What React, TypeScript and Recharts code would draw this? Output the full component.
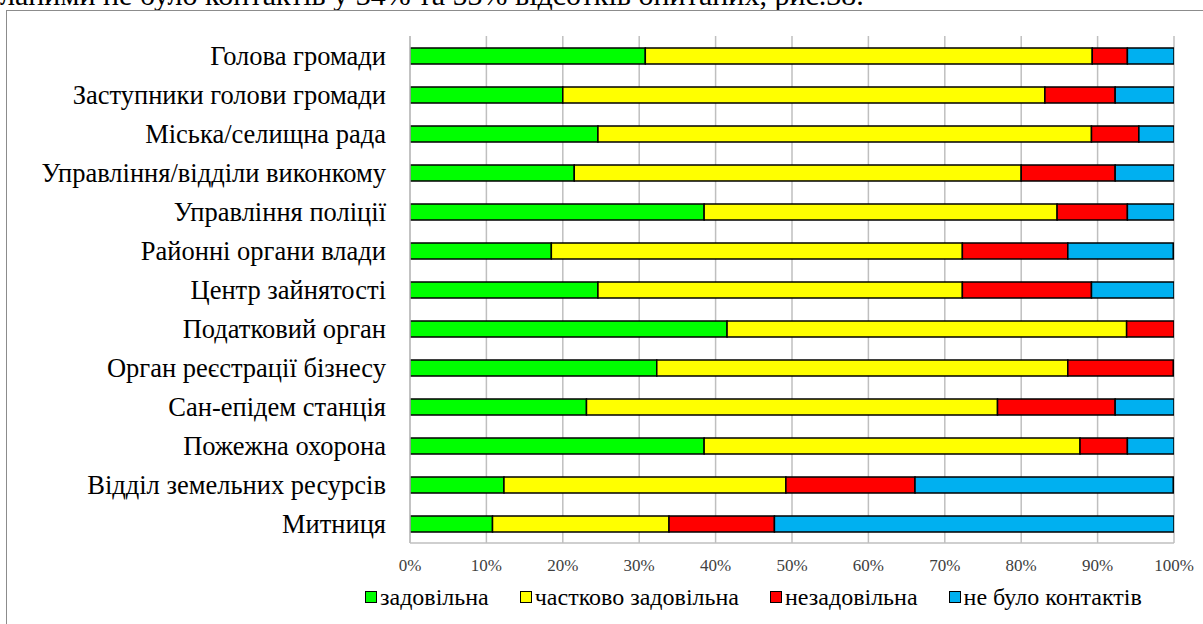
import React from "react";
import { BarChart, Bar, XAxis, YAxis, CartesianGrid } from "recharts";

const categories = [
  "Голова громади",
  "Заступники голови громади",
  "Міська/селищна рада",
  "Управління/відділи виконкому",
  "Управління поліції",
  "Районні органи влади",
  "Центр зайнятості",
  "Податковий орган",
  "Орган реєстрації бізнесу",
  "Сан-епідем станція",
  "Пожежна охорона",
  "Відділ земельних ресурсів",
  "Митниця",
];

const satisfactory = [30.8, 20.0, 24.6, 21.5, 38.5, 18.5, 24.6, 41.5, 32.3, 23.1, 38.5, 12.3, 10.8];
const partly = [58.5, 63.1, 64.6, 58.5, 46.2, 53.8, 47.7, 52.3, 53.8, 53.8, 49.2, 36.9, 23.1];
const unsatisfactory = [4.6, 9.2, 6.2, 12.3, 9.2, 13.8, 16.9, 6.2, 13.8, 15.4, 6.2, 16.9, 13.8];
const noContact = [6.2, 7.7, 4.6, 7.7, 6.2, 13.8, 10.8, 0, 0, 7.7, 6.2, 33.8, 52.3];

const xTicks = [0, 10, 20, 30, 40, 50, 60, 70, 80, 90, 100];

const series = [
  { key: "s1", name: "задовільна", color: "#00FF00" },
  { key: "s2", name: "частково задовільна", color: "#FFFF00" },
  { key: "s3", name: "незадовільна", color: "#FF0000" },
  { key: "s4", name: "не було контактів", color: "#00B0F0" },
];

const data = categories.map((name, i) => ({
  name,
  s1: satisfactory[i],
  s2: partly[i],
  s3: unsatisfactory[i],
  s4: noContact[i],
}));

const serif = "Liberation Serif";

export default function App() {
  return (
    <div
      style={{
        position: "absolute",
        left: 0,
        top: 0,
        width: 1203,
        height: 624,
        overflow: "hidden",
        background: "#fff",
        fontFamily: serif,
      }}
    >
      <div
        style={{
          position: "absolute",
          left: 0,
          top: -20,
          fontSize: 30,
          lineHeight: "30px",
          whiteSpace: "nowrap",
          color: "#000",
          fontFamily: serif,
        }}
      >
        ланими не було контактів у 34% та 53% відсотків опитаних, рис.38.
      </div>
      <div
        style={{
          position: "absolute",
          left: 6,
          top: 10,
          width: 1300,
          height: 800,
          border: "1.5px solid #8c8c8c",
        }}
      />
      <div style={{ position: "absolute", left: 0, top: 0 }}>
        <BarChart
          width={1203}
          height={624}
          data={data}
          layout="vertical"
          margin={{ top: 36, right: 29, left: 0, bottom: 0 }}
          barSize={16}
          style={{ fontFamily: serif }}
        >
          <CartesianGrid
            horizontal={false}
            vertical={true}
            stroke="#bfbfbf"
            strokeWidth={1.5}
          />
          <XAxis
            type="number"
            domain={[0, 100]}
            ticks={xTicks}
            interval={0}
            allowDataOverflow
            height={81}
            tickFormatter={(v: number) => `${v}%`}
            tickLine={false}
            tickSize={0}
            tickMargin={16}
            axisLine={{ stroke: "#bfbfbf", strokeWidth: 1.5 }}
            tick={{ fill: "#404040", fontSize: 17, fontFamily: serif }}
          />
          <YAxis
            type="category"
            dataKey="name"
            width={410}
            interval={0}
            tickLine={false}
            tickSize={0}
            tickMargin={24}
            axisLine={{ stroke: "#bfbfbf", strokeWidth: 1.5 }}
            tick={{ fill: "#000", fontSize: 26.5, fontFamily: serif }}
          />
          {series.map((s) => (
            <Bar
              key={s.key}
              dataKey={s.key}
              name={s.name}
              stackId="a"
              fill={s.color}
              stroke="#000"
              strokeWidth={1.5}
              isAnimationActive={false}
            />
          ))}
        </BarChart>
      </div>
      <div
        style={{
          position: "absolute",
          left: 365,
          top: 583,
          display: "flex",
          alignItems: "center",
          whiteSpace: "nowrap",
          fontSize: 24,
          lineHeight: "28px",
          color: "#000",
          fontFamily: serif,
        }}
      >
        {series.map((s, i) => (
          <div
            key={s.key}
            style={{
              display: "flex",
              alignItems: "center",
              marginRight: i < series.length - 1 ? 31 : 0,
            }}
          >
            <span
              style={{
                display: "inline-block",
                width: 10,
                height: 10,
                background: s.color,
                border: "1.5px solid #000",
                marginRight: 3,
              }}
            />
            <span>{s.name}</span>
          </div>
        ))}
      </div>
    </div>
  );
}
